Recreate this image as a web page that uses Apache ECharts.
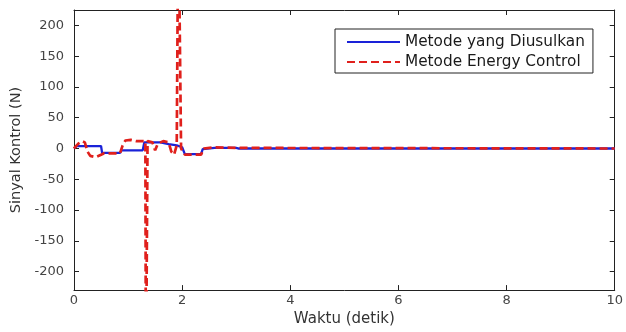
<!DOCTYPE html>
<html>
<head>
<meta charset="utf-8">
<script src="https://cdn.jsdelivr.net/npm/echarts@6/dist/echarts.min.js"></script>
<style>
  html, body { margin: 0; padding: 0; background: #fff; }
  #chart { width: 626px; height: 332px; }
</style>
</head>
<body>
<div id="chart"></div>
<script>
// Metode yang Diusulkan (blue, solid)
const timeProposed = [0, 0.05, 0.5, 0.52, 0.85, 0.88, 1.27, 1.3, 1.6, 1.75, 1.9, 2.0, 2.05, 2.35, 2.38, 2.6, 3.0, 3.05, 10];
const sigProposed  = [0, 4, 4, -7, -7, -3, -3, 10, 10, 7, 5, 2, -9, -9, -1, 1, 1, 0, 0];

// Metode Energy Control (red, dashed)
const timeEnergy = [0, 0.08, 0.15, 0.2, 0.25, 0.3, 0.4, 0.5, 0.55, 0.85, 0.9, 0.95, 1.05, 1.15, 1.32, 1.33, 1.35, 1.36, 1.45, 1.5, 1.55, 1.65, 1.75, 1.8, 1.85, 1.9, 1.93, 1.96, 1.98, 2.05, 2.35, 2.4, 2.6, 3.0, 10];
const sigEnergy  = [0, 8, 12, 10, -5, -12, -14, -10, -8, -8, 5, 13, 14, 12, 12, -400, -400, 12, 10, -3, 8, 12, 10, -5, -10, 5, 400, 400, 0, -10, -10, 0, 2, 1, 0];

const xTicks = [0, 2, 4, 6, 8, 10];
const yTicks = [-200, -150, -100, -50, 0, 50, 100, 150, 200];

const zip = (xs, ys) => xs.map((x, i) => [x, ys[i]]);

const chart = echarts.init(document.getElementById('chart'), null, { renderer: 'canvas' });
const font = 'DejaVu Sans, sans-serif';
const axisLine = { show: true, onZero: false, lineStyle: { color: '#222', width: 1 } };
const tick = vals => ({ show: true, inside: true, length: 5, customValues: vals, lineStyle: { color: '#222' } });

chart.setOption({
  animation: false,
  backgroundColor: '#fff',
  grid: { left: 74, right: 7, top: 10, bottom: 39, containLabel: false },
  legend: {
    orient: 'vertical',
    left: 335,
    top: 29,
    backgroundColor: '#fff',
    borderColor: '#222',
    borderWidth: 1,
    borderRadius: 0,
    padding: [5, 8, 3, 11],
    itemWidth: 53,
    itemHeight: 16,
    itemGap: 4,
    itemStyle: { opacity: 0 },
    textStyle: { fontFamily: font, fontSize: 15.3, color: '#1a1a1a', lineHeight: 16 },
    data: ['Metode yang Diusulkan', 'Metode Energy Control']
  },
  xAxis: [
    {
      type: 'value', min: 0, max: 10,
      name: 'Waktu (detik)', nameLocation: 'middle', nameGap: 20,
      nameTextStyle: { fontFamily: font, fontSize: 15, color: '#333' },
      axisLine: axisLine,
      axisTick: tick(xTicks),
      axisLabel: { fontFamily: font, fontSize: 13, color: '#444', margin: 4, customValues: xTicks },
      splitLine: { show: false }
    },
    {
      type: 'value', min: 0, max: 10, position: 'top',
      axisLine: axisLine,
      axisTick: tick(xTicks),
      axisLabel: { show: false },
      splitLine: { show: false }
    }
  ],
  yAxis: [
    {
      type: 'value', min: -230, max: 225,
      name: 'Sinyal Kontrol (N)', nameLocation: 'middle', nameGap: 48,
      nameTextStyle: { fontFamily: font, fontSize: 14.5, color: '#333' },
      axisLine: axisLine,
      axisTick: tick(yTicks),
      axisLabel: { fontFamily: font, fontSize: 13, color: '#444', margin: 10, customValues: yTicks },
      splitLine: { show: false }
    },
    {
      type: 'value', min: -230, max: 225, position: 'right',
      axisLine: axisLine,
      axisTick: tick(yTicks),
      axisLabel: { show: false },
      splitLine: { show: false }
    }
  ],
  series: [
    {
      name: 'Metode yang Diusulkan',
      type: 'line',
      data: zip(timeProposed, sigProposed),
      symbol: 'none',
      clip: true,
      lineStyle: { color: '#1a22d8', width: 2.3 },
      itemStyle: { color: '#1a22d8' },
      z: 2
    },
    {
      name: 'Metode Energy Control',
      type: 'line',
      data: zip(timeEnergy, sigEnergy),
      symbol: 'none',
      clip: true,
      lineStyle: { color: '#e0201c', width: 2.7, type: [8, 4] },
      itemStyle: { color: '#e0201c' },
      z: 3
    }
  ]
});
</script>
</body>
</html>
